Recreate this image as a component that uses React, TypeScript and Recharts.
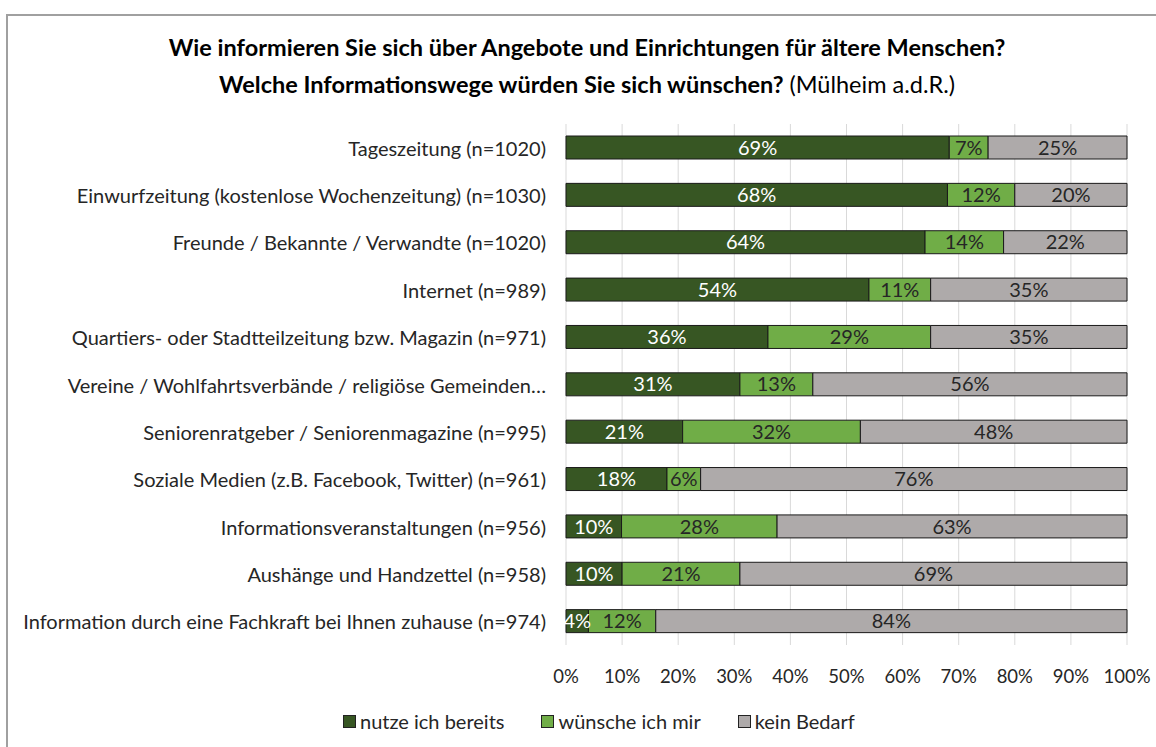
import { Bar, BarChart, CartesianGrid, LabelList, XAxis, YAxis } from "recharts"

const categories = [
  "Tageszeitung (n=1020)",
  "Einwurfzeitung (kostenlose Wochenzeitung) (n=1030)",
  "Freunde / Bekannte / Verwandte (n=1020)",
  "Internet (n=989)",
  "Quartiers- oder Stadtteilzeitung bzw. Magazin (n=971)",
  "Vereine / Wohlfahrtsverbände / religiöse Gemeinden…",
  "Seniorenratgeber / Seniorenmagazine (n=995)",
  "Soziale Medien (z.B. Facebook, Twitter) (n=961)",
  "Informationsveranstaltungen (n=956)",
  "Aushänge und Handzettel (n=958)",
  "Information durch eine Fachkraft bei Ihnen zuhause (n=974)",
]
const nutze = [69, 68, 64, 54, 36, 31, 21, 18, 10, 10, 4]
const wuensche = [7, 12, 14, 11, 29, 13, 32, 6, 28, 21, 12]
const keinBedarf = [25, 20, 22, 35, 35, 56, 48, 76, 63, 69, 84]
const xTicks = [0, 0.1, 0.2, 0.3, 0.4, 0.5, 0.6, 0.7, 0.8, 0.9, 1]

const series = [
  { key: "nutze", name: "nutze ich bereits", color: "#375623", text: "#ffffff" },
  { key: "wuensche", name: "wünsche ich mir", color: "#70ad47", text: "#262626" },
  { key: "kein", name: "kein Bedarf", color: "#aeaaaa", text: "#262626" },
]

const data = categories.map((c, i) => ({
  cat: c,
  nutze: nutze[i],
  wuensche: wuensche[i],
  kein: keinBedarf[i],
}))

const FONT = "Lato, 'Open Sans', sans-serif"

const CatTick = ({ x, y, payload }: any) => (
  <text x={x} y={y} textAnchor="end" dominantBaseline="central" fontSize={20} fill="#262626" fontFamily={FONT}>
    {payload.value}
  </text>
)

export default function App() {
  return (
    <div style={{ position: "absolute", left: 0, top: 0, width: 1156, height: 747, overflow: "hidden", background: "#fff" }}>
      <div
        style={{
          position: "absolute",
          left: 0,
          width: 1174,
          top: 29,
          textAlign: "center",
          fontFamily: FONT,
          fontSize: 23.5,
          lineHeight: "37px",
          color: "#000",
        }}
      >
        <div style={{ fontWeight: 700 }}>Wie informieren Sie sich über Angebote und Einrichtungen für ältere Menschen?</div>
        <div>
          <span style={{ fontWeight: 700 }}>Welche Informationswege würden Sie sich wünschen?</span> (Mülheim a.d.R.)
        </div>
      </div>
      <div style={{ position: "absolute", left: 0, top: 0 }}>
        <BarChart
          width={1156}
          height={747}
          data={data}
          layout="vertical"
          stackOffset="expand"
          margin={{ top: 124, right: 29, bottom: 72, left: 0 }}
        >
          <CartesianGrid horizontal={false} stroke="#d9d9d9" />
          <XAxis
            type="number"
            domain={[0, 1]}
            ticks={xTicks}
            tickFormatter={(v: number) => `${Math.round(v * 100)}%`}
            axisLine={false}
            tickLine={false}
            tickSize={0}
            tickMargin={25}
            height={30}
            tick={{ fontSize: 18.5, fill: "#262626", fontFamily: FONT }}
            interval={0}
          />
          <YAxis
            type="category"
            dataKey="cat"
            width={566}
            axisLine={false}
            tickLine={false}
            tickSize={0}
            tickMargin={20}
            tick={<CatTick />}
            interval={0}
          />
          {series.map((s) => (
            <Bar
              key={s.key}
              dataKey={s.key}
              name={s.name}
              stackId="a"
              fill={s.color}
              stroke="#1a1a1a"
              strokeWidth={1}
              barSize={23}
              isAnimationActive={false}
            >
              <LabelList
                dataKey={s.key}
                position="center"
                formatter={(v: any) => `${v}%`}
                fill={s.text}
                fontSize={20}
                fontFamily={FONT}
              />
            </Bar>
          ))}
        </BarChart>
      </div>
      <div
        style={{
          position: "absolute",
          left: 343,
          top: 708,
          display: "flex",
          gap: 37,
          fontFamily: FONT,
          fontSize: 20,
          lineHeight: "26px",
          color: "#262626",
        }}
      >
        {series.map((s) => (
          <div key={s.key} style={{ display: "flex", alignItems: "center" }}>
            <span
              style={{
                display: "inline-block",
                width: 11,
                height: 11,
                background: s.color,
                border: "1px solid #222",
                marginRight: 4,
              }}
            />
            {s.name}
          </div>
        ))}
      </div>
      <div
        style={{
          position: "absolute",
          left: 6,
          top: 14,
          width: 1200,
          height: 800,
          border: "2px solid #a0a0a0",
          pointerEvents: "none",
        }}
      />
    </div>
  )
}
